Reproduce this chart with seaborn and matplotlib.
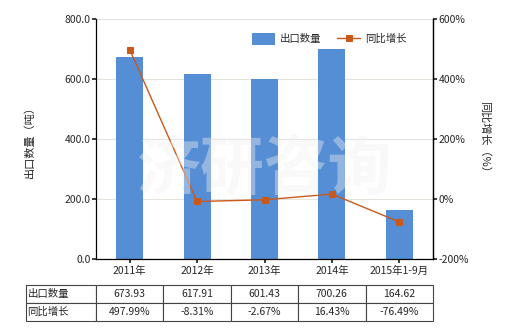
import numpy as np
import pandas as pd
import matplotlib
matplotlib.use("Agg")
import matplotlib.pyplot as plt
import seaborn as sns

categories = ["2011年", "2012年", "2013年", "2014年", "2015年1-9月"]
export_qty = [673.93, 617.91, 601.43, 700.26, 164.62]
growth = [497.99, -8.31, -2.67, 16.43, -76.49]
qty_labels = ["673.93", "617.91", "601.43", "700.26", "164.62"]
growth_labels = ["497.99%", "-8.31%", "-2.67%", "16.43%", "-76.49%"]
left_ticks = [0, 200, 400, 600, 800]
right_ticks = [-200, 0, 200, 400, 600]

sns.set_theme(style="white")
plt.rcParams['font.family'] = ['Noto Sans CJK SC', 'DejaVu Sans']
plt.rcParams['axes.unicode_minus'] = False

BAR = "#558ED5"
LINE = "#C8591A"
FS = 7.5

fig = plt.figure(figsize=(5.2, 3.3), dpi=100)
ax = fig.add_axes([96/520, 1-259/330, 337/520, 240/330])

df = pd.DataFrame({"cat": categories, "qty": export_qty})
sns.barplot(data=df, x="cat", y="qty", color=BAR, width=0.4, saturation=1, ax=ax,
            label="出口数量", linewidth=0)
ax.set_ylim(0, 800)
ax.set_yticks(left_ticks)
ax.set_yticklabels([f"{v:.1f}" for v in left_ticks], fontsize=FS)
ax.set_xlim(-0.5, len(categories)-0.5)
ax.set_xlabel("")
ax.set_ylabel("出口数量（吨）", fontsize=8, labelpad=21)
ax.tick_params(axis='x', labelsize=FS, length=3, direction='out', bottom=True, pad=2)
ax.tick_params(axis='y', length=3, direction='out', left=True, pad=1)
ax.grid(axis='y', color='#e4e4dc', linewidth=0.8)
ax.set_axisbelow(True)
ax.spines['top'].set_visible(False)
for s in ['left', 'bottom', 'right']:
    ax.spines[s].set_color('black')
    ax.spines[s].set_linewidth(0.9)

ax2 = ax.twinx()
sns.lineplot(x=np.arange(len(categories)), y=growth, ax=ax2, color=LINE, linewidth=1,
             marker='s', markersize=5, markeredgecolor=LINE, label="同比增长")
ax2.set_ylim(-200, 600)
ax2.set_yticks(right_ticks)
ax2.set_yticklabels([f"{v}%" for v in right_ticks], fontsize=FS)
ax2.tick_params(axis='y', length=3, direction='out', right=True, pad=1)
ax2.set_ylabel("同比增长（%）", fontsize=8, rotation=270, labelpad=15)
ax2.spines['top'].set_visible(False)
ax2.spines['right'].set_color('black')
ax2.spines['right'].set_linewidth(0.9)
ax2.spines['left'].set_visible(False)
ax2.spines['bottom'].set_visible(False)
ax2.grid(False)

# legend
h1, l1 = ax.get_legend_handles_labels()
h2, l2 = ax2.get_legend_handles_labels()
if ax.get_legend():
    ax.get_legend().remove()
ax2.legend(h1 + h2, l1 + l2, loc='upper right', bbox_to_anchor=(0.95, 0.98), ncol=2,
           frameon=False, fontsize=FS, handlelength=2.2, handleheight=1.3,
           columnspacing=1.5, handletextpad=0.5)

# watermark
fig.text(265/520, 1-170/330, "济研咨询", fontsize=46, color='#f2f2f2', alpha=0.4,
         ha='center', va='center', fontweight='bold', zorder=0)

# table
cell_text = [["出口数量"] + qty_labels, ["同比增长"] + growth_labels]
n = len(categories)
col_w = [70/407] + [337/n/407]*n
tbl = ax.table(cellText=cell_text, colWidths=col_w, cellLoc='center',
               bbox=[(26-96)/337, (259-321)/240, 407/337, 36/240])
tbl.auto_set_font_size(False)
tbl.set_fontsize(FS)
for (r, c), cell in tbl.get_celld().items():
    cell.set_edgecolor('#444444')
    cell.set_linewidth(0.8)
    if c == 0:
        cell.get_text().set_ha('left')
        cell.PAD = 0.02

fig.savefig("out.png", dpi=100)
